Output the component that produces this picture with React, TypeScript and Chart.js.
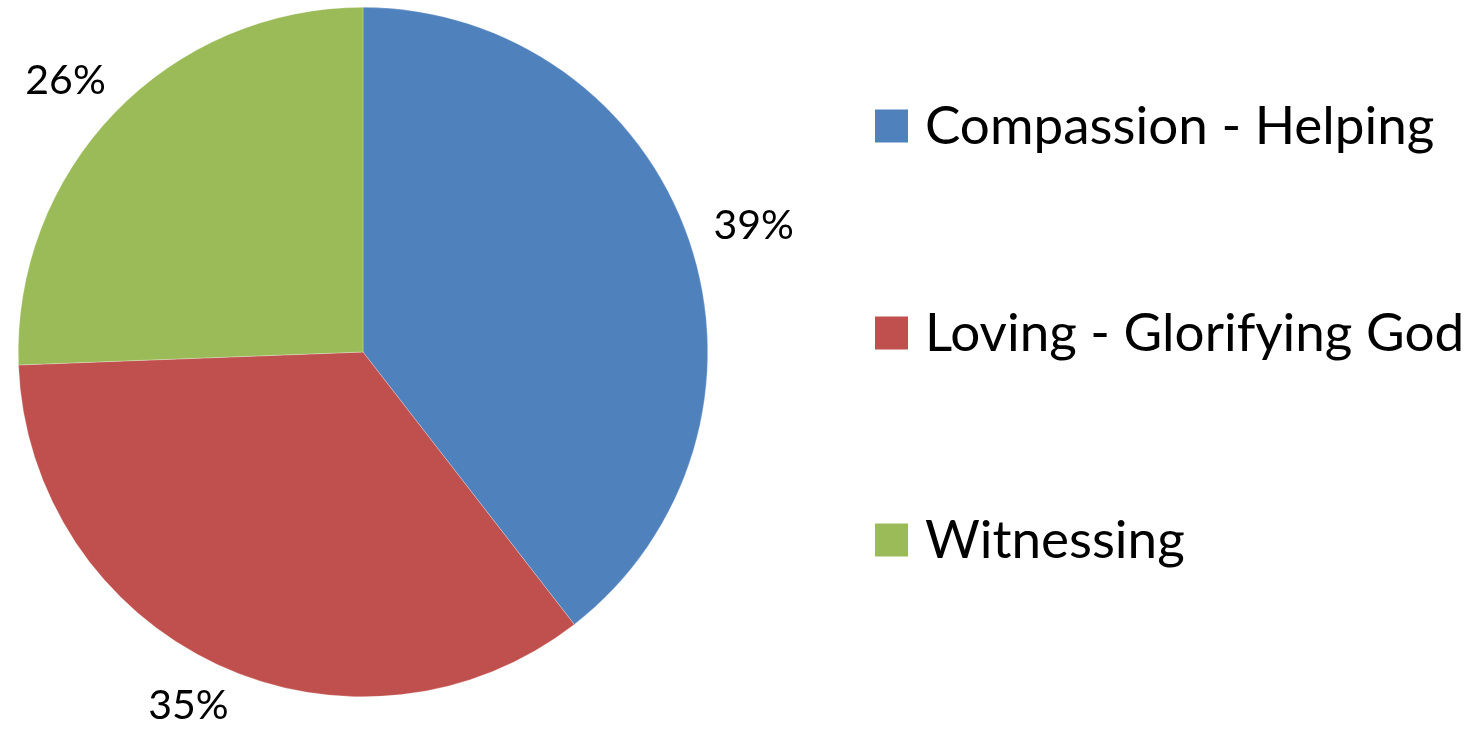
import React, { useEffect, useRef } from "react";
import { Chart, registerables } from "chart.js";

Chart.register(...registerables);

const categories = ["Compassion - Helping", "Loving - Glorifying God", "Witnessing"];
const values = [39.5, 34.9, 25.6];
const percentLabels = ["39%", "35%", "26%"];
const colors = ["#4F81BD", "#C0504D", "#9BBB59"];

const FONT = "Lato, 'Noto Sans', sans-serif";

const labelsPlugin = {
  id: "outsideLabels",
  afterDatasetsDraw(chart: any) {
    const ctx = chart.ctx;
    const meta = chart.getDatasetMeta(0);
    ctx.save();
    ctx.font = `41px ${FONT}`;
    ctx.fillStyle = "#000";
    ctx.textAlign = "center";
    ctx.textBaseline = "middle";
    meta.data.forEach((arc: any, i: number) => {
      const mid = (arc.startAngle + arc.endAngle) / 2;
      const dx = Math.cos(mid);
      const dy = Math.sin(mid);
      const R = arc.outerRadius + 28;
      const text = percentLabels[i];
      const w = ctx.measureText(text).width;
      const h = 36;
      const cx = arc.x + R * dx + (dx * w) / 2;
      const cy = arc.y + R * dy + (dy * h) / 2;
      ctx.fillText(text, cx, cy);
    });
    ctx.restore();
  },
};

const legendPlugin = {
  id: "customLegend",
  afterDraw(chart: any) {
    const ctx = chart.ctx;
    ctx.save();
    const boxX = 875;
    const box = 33;
    const textX = 925;
    const startY = 126;
    const step = 207;
    ctx.font = `53px ${FONT}`;
    ctx.textAlign = "left";
    ctx.textBaseline = "alphabetic";
    categories.forEach((c, i) => {
      const y = startY + i * step;
      ctx.fillStyle = colors[i];
      ctx.fillRect(boxX, y - box / 2, box, box);
      ctx.fillStyle = "#000";
      ctx.fillText(c, textX, y + 18);
    });
    ctx.restore();
  },
};

export default function App() {
  const ref = useRef<HTMLCanvasElement | null>(null);
  useEffect(() => {
    if (!ref.current) return;
    const chart = new Chart(ref.current, {
      type: "pie",
      data: {
        labels: categories,
        datasets: [
          {
            data: values,
            backgroundColor: colors,
            borderWidth: 0.5,
            borderColor: "rgba(255,255,255,0.5)",
          },
        ],
      },
      options: {
        animation: false,
        responsive: true,
        maintainAspectRatio: false,
        layout: { padding: { left: 18, right: 775, top: 7, bottom: 36 } },
        plugins: {
          legend: { display: false },
          tooltip: { enabled: false },
        },
      },
      plugins: [labelsPlugin, legendPlugin],
    });
    return () => chart.destroy();
  }, []);
  return (
    <div style={{ position: "fixed", left: 0, top: 0, width: 1483, height: 733, background: "#fff" }}>
      <canvas ref={ref} />
    </div>
  );
}
